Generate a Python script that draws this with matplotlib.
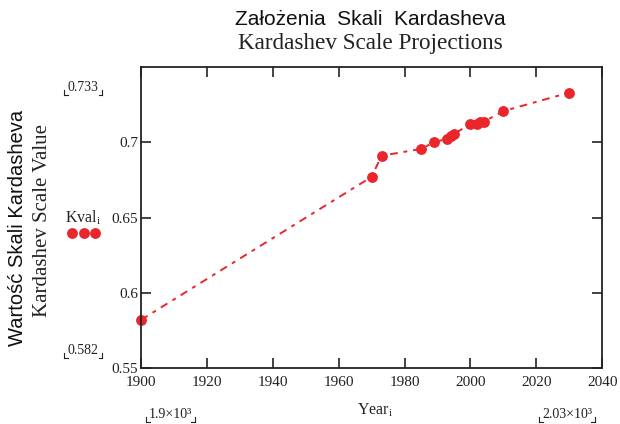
import matplotlib
matplotlib.use("Agg")
import matplotlib.pyplot as plt
from matplotlib.lines import Line2D

# Kardashev scale values
years = [1900, 1970, 1973, 1985, 1989, 1993, 1994, 1995, 2000, 2002, 2003, 2004, 2010, 2030]
kval = [0.582, 0.677, 0.691, 0.6956, 0.700, 0.7024, 0.704, 0.7056, 0.712, 0.7124, 0.7133, 0.7136, 0.7207, 0.733]

xticks = [1900, 1920, 1940, 1960, 1980, 2000, 2020, 2040]
yticks = [0.55, 0.6, 0.65, 0.7]
ytick_labels = ['0.55', '0.6', '0.65', '0.7']

RED = '#e8262b'
SERIF = 'Liberation Serif'
SANS = 'Liberation Sans'

plt.rcParams['mathtext.fontset'] = 'custom'
plt.rcParams['mathtext.rm'] = SERIF
plt.rcParams['mathtext.it'] = SERIF

fig = plt.figure(figsize=(6.2, 4.24), dpi=100)
ax = fig.add_axes([0.2274, 0.132, 0.9714 - 0.2274, 0.842 - 0.132])

ax.plot(years, kval, color=RED, lw=1.4, linestyle=(0, (4, 3, 2, 3)),
        marker='o', markersize=7.8, markeredgewidth=0, clip_on=False)

ax.set_xlim(1900, 2040)
ax.set_ylim(0.55, 0.75)
ax.set_xticks(xticks)
ax.set_xticklabels([str(t) for t in xticks], family=SERIF, fontsize=11)
ax.set_yticks(yticks)
ax.set_yticklabels(ytick_labels, family=SERIF, fontsize=11)
ax.tick_params(direction='in', length=7, width=1.2, top=True, right=True, pad=2, colors='#222222')
ax.tick_params(axis='x', pad=5.5)
for s in ax.spines.values():
    s.set_linewidth(1.3)
    s.set_color('#222222')

# titles
fig.text(0.598, 0.955, 'Założenia  Skali  Kardasheva', family=SANS, fontsize=15,
         ha='center', va='center', color='#111111')
fig.text(0.598, 0.898, 'Kardashev Scale Projections', family=SERIF, fontsize=16.7,
         ha='center', va='center', color='#222222')

# y labels
fig.text(0.029, 0.462, 'Wartość Skali Kardasheva', family=SANS, fontsize=14.5,
         rotation=90, ha='center', va='center', color='#111111')
fig.text(0.068, 0.48, 'Kardashev Scale Value', family=SERIF, fontsize=15,
         rotation=90, ha='center', va='center', color='#222222')

# legend-like trace name
fig.text(0.105, 0.486, 'Kval$_{\\mathrm{i}}$', family=SERIF, fontsize=11.5,
         ha='left', va='center', color='#222222')
for xp in [0.116, 0.135, 0.154]:
    fig.add_artist(Line2D([xp], [0.45], marker='o', markersize=7.8, color=RED,
                          markeredgewidth=0, transform=fig.transFigure))

# x label
fig.text(0.605, 0.033, 'Year$_{\\mathrm{i}}$', family=SERIF, fontsize=11.5,
         ha='center', va='center', color='#222222')


def bracket_label(x, y, txt, w):
    fig.text(x, y, txt, family=SERIF, fontsize=10, ha='center', va='center', color='#222222')
    h = 0.012
    yb = y - 0.018
    for sx in (-1, 1):
        xe = x + sx * w / 2
        fig.add_artist(Line2D([xe, xe], [yb, yb + h], color='#222222', lw=0.8,
                              transform=fig.transFigure))
        fig.add_artist(Line2D([xe, xe - sx * 0.006], [yb, yb], color='#222222', lw=0.8,
                              transform=fig.transFigure))


bracket_label(0.134, 0.794, '0.733', 0.062)
bracket_label(0.134, 0.174, '0.582', 0.062)
bracket_label(0.275, 0.022, '1.9×10³', 0.078)
bracket_label(0.915, 0.022, '2.03×10³', 0.09)

fig.savefig('out.png', dpi=100, facecolor='white')
